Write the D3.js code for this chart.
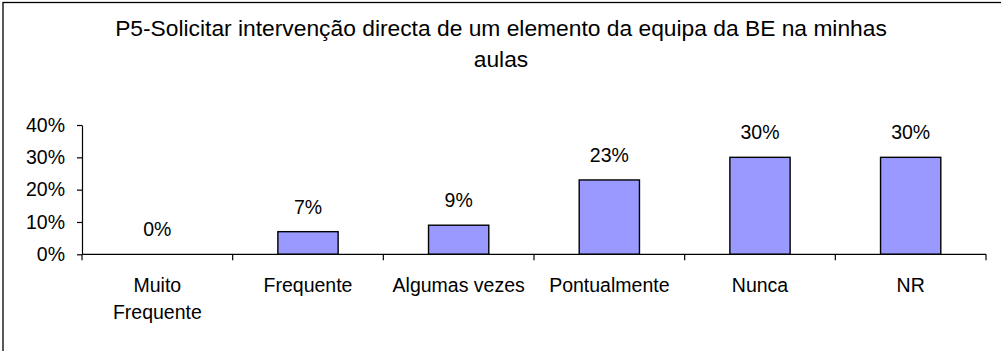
<!DOCTYPE html>
<html>
<head>
<meta charset="utf-8">
<script src="https://cdn.jsdelivr.net/npm/d3@7/dist/d3.min.js"></script>
<style>
  html, body { margin: 0; padding: 0; background: #fff; }
  svg { display: block; font-family: "Liberation Sans", Arial, sans-serif; }
</style>
</head>
<body>
<svg id="chart" width="1001" height="351"></svg>
<script>
// Question P5 responses (share of respondents)
const titleLines = ["P5-Solicitar intervenção directa de um elemento da equipa da BE na minhas", "aulas"];
const categories = ["Muito Frequente", "Frequente", "Algumas vezes", "Pontualmente", "Nunca", "NR"];
const values = [0.00, 0.07, 0.09, 0.23, 0.30, 0.30];
const yTicks = [0, 0.1, 0.2, 0.3, 0.4];

const svg = d3.select("#chart");
const plot = { left: 82, right: 986, top: 125, bottom: 254.3 };
const labelSize = 19.5;

// Outer chart frame (extends beyond the visible area on the right and bottom)
svg.append("rect")
  .attr("x", 3).attr("y", 2.5)
  .attr("width", 1100).attr("height", 500)
  .attr("fill", "#fff")
  .attr("stroke", "#000").attr("stroke-width", 1.3);

// Title
const title = svg.append("text")
  .attr("text-anchor", "middle")
  .attr("font-size", 22.8)
  .attr("fill", "#000");
titleLines.forEach((t, i) => {
  title.append("tspan").attr("x", 501).attr("y", 36 + i * 30.5).text(t);
});

const x = d3.scaleBand()
  .domain(categories)
  .range([plot.left, plot.right])
  .paddingInner(0.6)
  .paddingOuter(0.3);

const y = d3.scaleLinear()
  .domain([0, 0.4])
  .range([plot.bottom, plot.top]);

// Y axis
const yAxis = svg.append("g")
  .attr("transform", `translate(${plot.left},0)`)
  .call(d3.axisLeft(y)
    .tickValues(yTicks)
    .tickFormat(d3.format(".0%"))
    .tickSize(5)
    .tickSizeOuter(0)
    .tickPadding(12));
yAxis.select(".domain").attr("stroke", "#000").attr("stroke-width", 1.2);
yAxis.selectAll(".tick line").attr("stroke", "#000").attr("stroke-width", 1.2);
yAxis.selectAll(".tick text")
  .attr("font-size", labelSize)
  .attr("font-family", "Liberation Sans, Arial, sans-serif")
  .attr("fill", "#000");

// Bars
svg.append("g").selectAll("rect")
  .data(values)
  .join("rect")
  .attr("x", (d, i) => x(categories[i]))
  .attr("y", d => y(d))
  .attr("width", x.bandwidth())
  .attr("height", d => y(0) - y(d))
  .attr("fill", "#9999ff")
  .attr("stroke", "#000")
  .attr("stroke-width", 1.4)
  .attr("visibility", d => d > 0 ? "visible" : "hidden");

// X axis baseline with category boundary ticks
const step = x.step();
const boundaries = d3.range(categories.length + 1).map(i => plot.left + i * step);
const xAxis = svg.append("g");
xAxis.append("line")
  .attr("x1", plot.left).attr("x2", plot.right)
  .attr("y1", y(0)).attr("y2", y(0))
  .attr("stroke", "#000").attr("stroke-width", 1.2);
xAxis.selectAll("line.tick")
  .data(boundaries)
  .join("line")
  .attr("class", "tick")
  .attr("x1", d => d).attr("x2", d => d)
  .attr("y1", y(0)).attr("y2", y(0) + 6)
  .attr("stroke", "#000").attr("stroke-width", 1.2);

// Category labels, wrapped when wider than the slot
const maxLabelWidth = step * 0.92;
categories.forEach(c => {
  const cx = x(c) + x.bandwidth() / 2;
  const t = xAxis.append("text")
    .attr("text-anchor", "middle")
    .attr("font-size", labelSize)
    .attr("fill", "#000");
  const words = c.split(" ");
  let lines = [];
  let line = [];
  const probe = t.append("tspan").attr("x", cx).attr("y", 291.7);
  words.forEach(w => {
    line.push(w);
    probe.text(line.join(" "));
    if (probe.node().getComputedTextLength() > maxLabelWidth && line.length > 1) {
      line.pop();
      lines.push(line.join(" "));
      line = [w];
    }
  });
  lines.push(line.join(" "));
  probe.remove();
  lines.forEach((l, i) => {
    t.append("tspan").attr("x", cx).attr("y", 291.7 + i * 27.6).text(l);
  });
});

// Value labels above bars
svg.append("g").selectAll("text")
  .data(values)
  .join("text")
  .attr("x", (d, i) => x(categories[i]) + x.bandwidth() / 2)
  .attr("y", d => y(d) - 18)
  .attr("text-anchor", "middle")
  .attr("font-size", labelSize)
  .attr("fill", "#000")
  .text(d => d3.format(".0%")(d));
</script>
</body>
</html>
